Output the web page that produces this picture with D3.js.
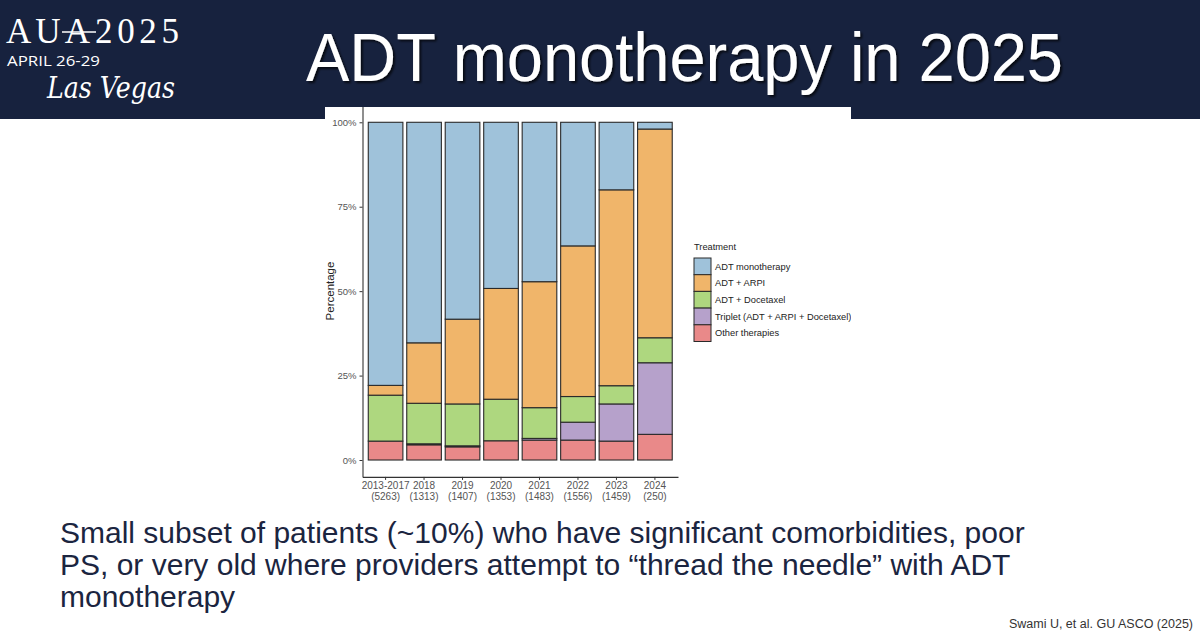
<!DOCTYPE html>
<html>
<head>
<meta charset="utf-8">
<script src="https://cdn.jsdelivr.net/npm/d3@7"></script>
<style>
  body { margin: 0; background: #fff; }
  svg { display: block; }
</style>
</head>
<body>
<svg id="slide" width="1200" height="637"></svg>
<script>
// data (percent of patients per year)
var years = ["2013-2017", "2018", "2019", "2020", "2021", "2022", "2023", "2024"];
var counts = ["(5263)", "(1313)", "(1407)", "(1353)", "(1483)", "(1556)", "(1459)", "(250)"];
var treatments = ["ADT monotherapy", "ADT + ARPI", "ADT + Docetaxel", "Triplet (ADT + ARPI + Docetaxel)", "Other therapies"];
var mono    = [77.9, 65.3, 58.3, 49.2, 47.2, 36.6, 20.0, 2.0];
var arpi    = [2.9, 17.9, 25.1, 32.8, 37.3, 44.6, 58.0, 61.8];
var doc     = [13.6, 12.0, 12.4, 12.3, 9.1, 7.6, 5.4, 7.4];
var triplet = [0, 0.3, 0.3, 0, 0.5, 5.3, 11.0, 21.2];
var other   = [5.6, 4.5, 3.9, 5.7, 5.9, 5.9, 5.6, 7.6];
var yTicks = [0, 25, 50, 75, 100];

var colors = ["#9fc2da", "#f0b56a", "#aed77f", "#b6a1cb", "#e98989"];

var svg = d3.select("#slide");

/* header band + logo + title */
svg.append("rect").attr("width", 1200).attr("height", 119).attr("fill", "#17223e");

var logo = svg.append("g").attr("fill", "#fff");
logo.append("text").attr("x", 6).attr("y", 43)
    .attr("font-family", "Liberation Serif").attr("font-size", 35)
    .attr("textLength", 84).text("AUA");
logo.append("line").attr("x1", 62).attr("x2", 96).attr("y1", 32).attr("y2", 32)
    .attr("stroke", "#fff").attr("stroke-width", 1.5);
logo.append("text").attr("x", 95).attr("y", 43)
    .attr("font-family", "Liberation Serif").attr("font-size", 35)
    .attr("textLength", 84).text("2025");
logo.append("text").attr("x", 7).attr("y", 66)
    .attr("font-family", "Open Sans").attr("font-size", 14)
    .attr("textLength", 93).attr("lengthAdjust", "spacingAndGlyphs").text("APRIL 26-29");
logo.append("text").attr("x", 47).attr("y", 98)
    .attr("font-family", "DejaVu Serif").attr("font-style", "italic").attr("font-size", 30)
    .attr("textLength", 128).attr("lengthAdjust", "spacingAndGlyphs").text("Las Vegas");

var defs = svg.append("defs");
var shadow = defs.append("filter").attr("id", "shadow").attr("x", "-5%").attr("y", "-20%")
    .attr("width", "110%").attr("height", "140%");
shadow.append("feDropShadow").attr("dx", 2).attr("dy", 2).attr("stdDeviation", 1.2)
    .attr("flood-color", "#000").attr("flood-opacity", 0.7);

svg.append("text").attr("x", 306).attr("y", 81)
    .attr("font-family", "Liberation Sans, Arial").attr("font-size", 68)
    .attr("textLength", 757).attr("lengthAdjust", "spacingAndGlyphs")
    .attr("fill", "#fff").attr("filter", "url(#shadow)")
    .text("ADT monotherapy in 2025");

/* chart image area */
defs.append("clipPath").attr("id", "chartClip")
  .append("rect").attr("x", 325).attr("y", 107).attr("width", 526).attr("height", 405);

svg.append("rect").attr("x", 325).attr("y", 107).attr("width", 526).attr("height", 14).attr("fill", "#fff");

var g = svg.append("g").attr("clip-path", "url(#chartClip)")
    .attr("font-family", "Liberation Sans, Arial");

var x = d3.scaleBand()
    .domain(years)
    .range([362.5, 678])
    .paddingInner(0.1)
    .paddingOuter(0.15);

var y = d3.scaleLinear()
    .domain([-5, 105])
    .range([476.9, 105.4]);

var rows = years.map(function(yr, i) {
  return { year: yr, other: other[i], triplet: triplet[i], doc: doc[i], arpi: arpi[i], mono: mono[i] };
});
var keys = ["other", "triplet", "doc", "arpi", "mono"];
var keyColor = { mono: colors[0], arpi: colors[1], doc: colors[2], triplet: colors[3], other: colors[4] };

var stacked = d3.stack().keys(keys)(rows);

g.append("g")
  .selectAll("g")
  .data(stacked)
  .enter().append("g")
    .attr("fill", function(d) { return keyColor[d.key]; })
  .selectAll("rect")
  .data(function(d) { return d; })
  .enter().append("rect")
    .attr("x", function(d) { return x(d.data.year); })
    .attr("y", function(d) { return y(d[1]); })
    .attr("width", x.bandwidth())
    .attr("height", function(d) { return y(d[0]) - y(d[1]); })
    .attr("stroke", "#2a2a2a")
    .attr("stroke-width", 1.1);

/* Y axis */
var yAxis = g.append("g")
    .attr("transform", "translate(362.5,0)")
    .call(d3.axisLeft(y).tickValues(yTicks).tickFormat(function(d) { return d + "%"; })
      .tickSize(3).tickSizeOuter(0));
yAxis.select(".domain").attr("stroke", "#333").attr("stroke-width", 1.1);
yAxis.selectAll(".tick line").attr("stroke", "#333");
yAxis.selectAll(".tick text").attr("fill", "#555").attr("font-size", 9.5)
    .attr("font-family", "Liberation Sans, Arial");

/* X axis */
var xAxis = g.append("g")
    .attr("transform", "translate(0,476.9)")
    .call(d3.axisBottom(x).tickSize(3).tickSizeOuter(0));
xAxis.select(".domain").attr("stroke", "#333").attr("stroke-width", 1.1);
xAxis.selectAll(".tick line").attr("stroke", "#333");
xAxis.selectAll(".tick text").remove();
xAxis.selectAll(".tick").each(function(d, i) {
  var t = d3.select(this).append("text")
      .attr("fill", "#555").attr("font-size", 10)
      .attr("font-family", "Liberation Sans, Arial")
      .attr("text-anchor", "middle");
  t.append("tspan").attr("x", 0).attr("y", 12).text(d);
  t.append("tspan").attr("x", 0).attr("y", 23.5).text(counts[i]);
});

/* Y axis title, partly cut off by the image edge */
g.append("text")
    .attr("transform", "translate(334,291) rotate(-90)")
    .attr("text-anchor", "middle")
    .attr("font-size", 11.5)
    .attr("fill", "#222")
    .text("Percentage");

/* Legenda */
var legend = g.append("g").attr("font-size", 9.3).attr("fill", "#222");
legend.append("text").attr("x", 694).attr("y", 250).text("Treatment");
var items = legend.selectAll("g.item")
    .data(treatments)
    .enter().append("g")
    .attr("class", "item")
    .attr("transform", function(d, i) { return "translate(694," + (258 + i * 16.7) + ")"; });
items.append("rect")
    .attr("width", 17).attr("height", 16.7)
    .attr("fill", function(d, i) { return colors[i]; })
    .attr("stroke", "#2a2a2a").attr("stroke-width", 1);
items.append("text")
    .attr("x", 21).attr("y", 8.4).attr("dy", "0.35em")
    .text(function(d) { return d; });

/* slide body text */
var body = ["Small subset of patients (~10%) who have significant comorbidities, poor",
            "PS, or very old where providers attempt to \u201cthread the needle\u201d with ADT",
            "monotherapy"];
svg.append("g").selectAll("text")
    .data(body)
    .enter().append("text")
    .attr("x", 60)
    .attr("y", function(d, i) { return 543 + i * 32; })
    .attr("font-family", "Liberation Sans, Arial")
    .attr("font-size", 30)
    .attr("fill", "#1b2540")
    .text(function(d) { return d; });

svg.append("text")
    .attr("x", 1193).attr("y", 628)
    .attr("text-anchor", "end")
    .attr("font-family", "Liberation Sans, Arial")
    .attr("font-size", 12.5)
    .attr("fill", "#333")
    .text("Swami U, et al. GU ASCO (2025)");
</script>
</body>
</html>
